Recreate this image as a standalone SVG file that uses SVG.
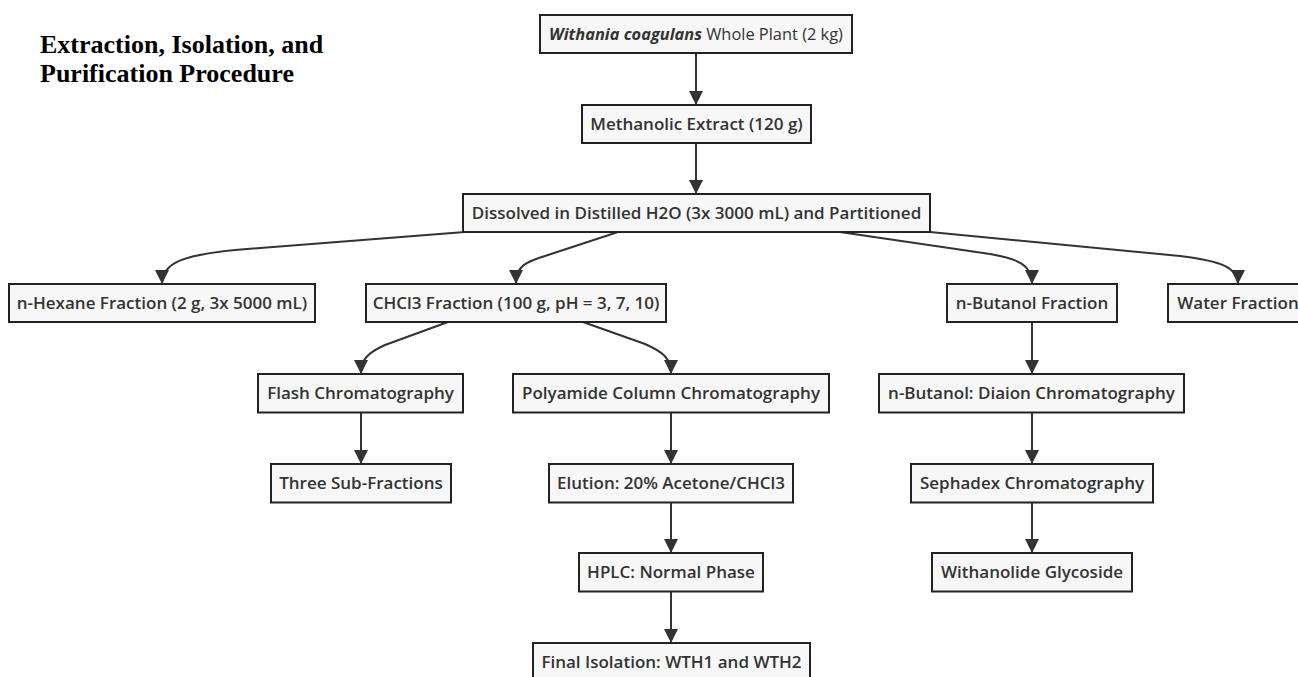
<svg xmlns="http://www.w3.org/2000/svg" width="1298" height="677" viewBox="0 0 1298 677">
<defs>
<style>
.title{font-family:"Liberation Serif","Times New Roman",serif;font-weight:bold;font-size:26px;fill:#000}
.node rect{fill:#f7f7f7;stroke:#222;stroke-width:2}
.node text{font-family:"Open Sans","Noto Sans",sans-serif;font-weight:600;font-size:17px;fill:#333;text-anchor:middle}
.edges path{fill:none;stroke:#333;stroke-width:2}
</style>
<marker id="arr" markerUnits="userSpaceOnUse" markerWidth="14" markerHeight="14" viewBox="0 0 12 12" refX="12" refY="6" orient="auto">
<path d="M0,0 L12,6 L0,12 Z" fill="#333"/>
</marker>
</defs>
<rect width="1298" height="677" fill="#fff"/>
<text class="title" x="40" y="53">Extraction, Isolation, and</text>
<text class="title" x="40" y="82">Purification Procedure</text>

<g class="edges">
<path d="M696,53 L696,105" marker-end="url(#arr)"/>
<path d="M696,143 L696,194" marker-end="url(#arr)"/>
<path d="M465,232 L235,250 C185,255 162,262 162,284" marker-end="url(#arr)"/>
<path d="M618,232 L548,255 C525,262 516,266 516,284" marker-end="url(#arr)"/>
<path d="M840,232 L990,254 C1020,259 1032,266 1032,284" marker-end="url(#arr)"/>
<path d="M930,232 L1180,256 C1222,261 1238,268 1238,284" marker-end="url(#arr)"/>
<path d="M448,322 L385,345 C367,353 361,360 361,374" marker-end="url(#arr)"/>
<path d="M583,322 L645,344 C663,352 671,358 671,374" marker-end="url(#arr)"/>
<path d="M1032,322 L1032,374" marker-end="url(#arr)"/>
<path d="M361,413 L361,464" marker-end="url(#arr)"/>
<path d="M671,413 L671,464" marker-end="url(#arr)"/>
<path d="M1032,413 L1032,464" marker-end="url(#arr)"/>
<path d="M671,503 L671,553" marker-end="url(#arr)"/>
<path d="M1032,503 L1032,553" marker-end="url(#arr)"/>
<path d="M671,592 L671,643" marker-end="url(#arr)"/>
</g>

<g id="n-plant" class="node"><rect x="540" y="15" width="312" height="38"/><text x="696" y="40" style="font-size:16.4px"><tspan font-style="italic" font-weight="700">Withania coagulans</tspan><tspan font-weight="400"> Whole Plant (2 kg)</tspan></text></g>
<g id="n-methanolic" class="node"><rect x="582" y="105" width="229" height="38"/><text x="696.5" y="130">Methanolic Extract (120 g)</text></g>
<g id="n-dissolved" class="node"><rect x="463" y="194" width="467" height="38"/><text x="696.5" y="219">Dissolved in Distilled H2O (3x 3000 mL) and Partitioned</text></g>
<g id="n-hexane" class="node"><rect x="9" y="284" width="306" height="38"/><text x="162" y="309">n-Hexane Fraction (2 g, 3x 5000 mL)</text></g>
<g id="n-chcl3" class="node"><rect x="366" y="284" width="300" height="38"/><text x="516" y="309">CHCl3 Fraction (100 g, pH = 3, 7, 10)</text></g>
<g id="n-butanol" class="node"><rect x="947" y="284" width="170" height="38"/><text x="1032" y="309">n-Butanol Fraction</text></g>
<g id="n-water" class="node"><rect x="1168" y="284" width="140" height="38"/><text x="1238" y="309">Water Fraction</text></g>
<g id="n-flash" class="node"><rect x="258" y="374" width="205" height="38.5"/><text x="360.5" y="399">Flash Chromatography</text></g>
<g id="n-polyamide" class="node"><rect x="513" y="374" width="316" height="38.5"/><text x="671" y="399">Polyamide Column Chromatography</text></g>
<g id="n-diaion" class="node"><rect x="879" y="374" width="305" height="38.5"/><text x="1031.5" y="399">n-Butanol: Diaion Chromatography</text></g>
<g id="n-three" class="node"><rect x="271" y="464" width="180" height="38.5"/><text x="361" y="489">Three Sub-Fractions</text></g>
<g id="n-elution" class="node"><rect x="549" y="464" width="244" height="38.5"/><text x="671" y="489">Elution: 20% Acetone/CHCl3</text></g>
<g id="n-sephadex" class="node"><rect x="911" y="464" width="242" height="38.5"/><text x="1032" y="489">Sephadex Chromatography</text></g>
<g id="n-hplc" class="node"><rect x="579" y="553" width="184" height="38.5"/><text x="671" y="578">HPLC: Normal Phase</text></g>
<g id="n-withanolide" class="node"><rect x="932" y="553" width="200" height="38.5"/><text x="1032" y="578">Withanolide Glycoside</text></g>
<g id="n-final" class="node"><rect x="533" y="643" width="277" height="38.5"/><text x="671.5" y="668">Final Isolation: WTH1 and WTH2</text></g>
</svg>
